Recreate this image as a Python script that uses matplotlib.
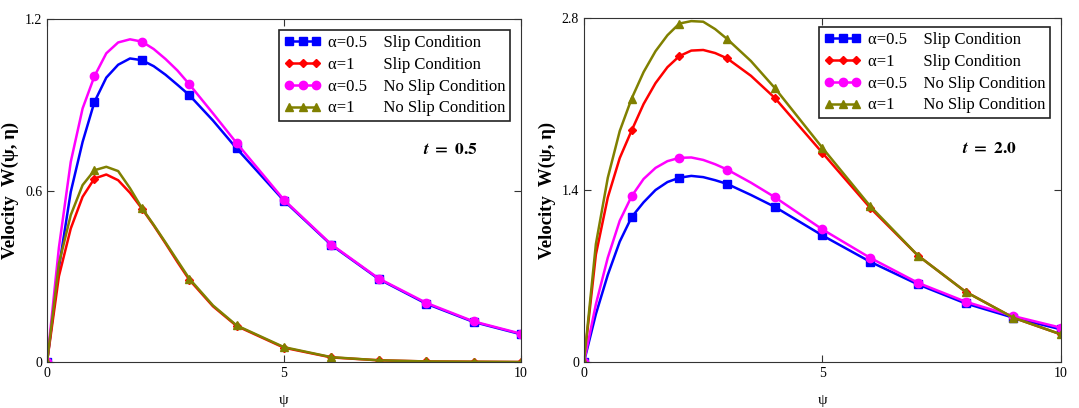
import matplotlib.pyplot as plt

plt.rcParams['font.family'] = ['Liberation Serif', 'DejaVu Serif']
plt.rcParams['mathtext.fontset'] = 'stix'

psi = [0, 0.25, 0.5, 0.75, 1, 1.25, 1.5, 1.75, 2, 2.25, 2.5, 2.75, 3, 3.5, 4, 5, 6, 7, 8, 9, 10]
# indices of the integer psi values (where markers sit)
marker_idx = [0, 4, 8, 12, 14, 15, 16, 17, 18, 19, 20]

# t = 0.5
w05_a05_slip = [0, 0.33, 0.595, 0.77, 0.910, 0.995, 1.04, 1.062, 1.056, 1.035, 1.005, 0.97, 0.934,
                0.845, 0.747, 0.564, 0.409, 0.290, 0.204, 0.140, 0.097]
w05_a1_slip = [0, 0.30, 0.467, 0.578, 0.642, 0.656, 0.636, 0.592, 0.537, 0.478, 0.415, 0.35, 0.288,
               0.195, 0.126, 0.050, 0.016, 0.006, 0.002, 0.001, 0.0]
w05_a05_noslip = [0, 0.40, 0.70, 0.887, 1.000, 1.08, 1.118, 1.129, 1.121, 1.095, 1.06, 1.02, 0.972,
                  0.87, 0.766, 0.567, 0.411, 0.292, 0.207, 0.142, 0.099]
w05_a1_noslip = [0, 0.344, 0.514, 0.619, 0.671, 0.683, 0.668, 0.608, 0.539, 0.48, 0.418, 0.355, 0.292,
                 0.198, 0.128, 0.052, 0.017, 0.006, 0.002, 0.001, 0.0]

# t = 2.0
w20_a05_slip = [0, 0.39, 0.71, 0.98, 1.18, 1.30, 1.40, 1.465, 1.50, 1.515, 1.505, 1.48, 1.45,
                1.36, 1.263, 1.030, 0.816, 0.632, 0.477, 0.361, 0.266]
w20_a1_slip = [0, 0.875, 1.34, 1.66, 1.885, 2.10, 2.27, 2.40, 2.49, 2.535, 2.54, 2.515, 2.472,
               2.33, 2.15, 1.702, 1.255, 0.867, 0.572, 0.361, 0.225]
w20_a05_noslip = [0, 0.47, 0.85, 1.15, 1.35, 1.49, 1.58, 1.635, 1.662, 1.665, 1.645, 1.61, 1.567,
                  1.46, 1.342, 1.079, 0.848, 0.645, 0.491, 0.374, 0.279]
w20_a1_noslip = [0, 0.96, 1.50, 1.88, 2.145, 2.36, 2.53, 2.66, 2.755, 2.775, 2.77, 2.71, 2.63,
                 2.45, 2.231, 1.743, 1.269, 0.867, 0.572, 0.361, 0.225]

labels = ['α=0.5    Slip Condition',
          'α=1       Slip Condition',
          'α=0.5    No Slip Condition',
          'α=1       No Slip Condition']
styles = [('#0000ff', 's', 6), ('#ff0000', 'D', 4), ('#ff00ff', 'o', 6), ('#808000', '^', 6)]


def draw_panel(ax, series, ymax, yticks, ytick_labels, t_text, legend_top):
    for y, lab, (c, m, ms) in zip(series, labels, styles):
        ax.plot(psi, y, color=c, lw=1.8, marker=m, ms=ms, markevery=marker_idx, label=lab,
                solid_joinstyle='round')
    ax.set_xlim(0, 10)
    ax.set_ylim(0, ymax)
    ax.set_xticks([0, 5, 10])
    ax.set_xticklabels(['0', '5', '10'])
    ax.set_yticks(yticks)
    ax.set_yticklabels(ytick_labels)
    ax.tick_params(direction='in', top=True, right=True, length=5, labelsize=10, color='#333333')
    for s in ax.spines.values():
        s.set_color('#333333')
    ax.set_xlabel('ψ', fontsize=11, labelpad=10)
    ax.set_ylabel('Velocity  W(ψ, η)', fontsize=13.5, fontweight='bold', labelpad=4)
    ax.text(0.85, 0.618, t_text, transform=ax.transAxes, fontsize=12.5, ha='center', va='center')
    leg = ax.legend(loc='upper right', bbox_to_anchor=(0.977, legend_top), numpoints=3,
                    fancybox=False, framealpha=1, edgecolor='#222222', fontsize=12,
                    handlelength=2.2, handletextpad=0.4, borderpad=0.3, labelspacing=0.35,
                    borderaxespad=0)
    leg.get_frame().set_linewidth(1.2)


fig = plt.figure(figsize=(10.79, 4.08), dpi=100)
ax1 = fig.add_axes([0.0436, 0.1127, 0.4393, 0.8407])
ax2 = fig.add_axes([0.5412, 0.1127, 0.4421, 0.8431])

draw_panel(ax1, [w05_a05_slip, w05_a1_slip, w05_a05_noslip, w05_a1_noslip],
           1.2, [0, 0.6, 1.2], ['0', '0.6', '1.2'], r'$\mathbfit{t}\ \mathbf{=\ 0.5}$', 0.968)
draw_panel(ax2, [w20_a05_slip, w20_a1_slip, w20_a05_noslip, w20_a1_noslip],
           2.8, [0, 1.4, 2.8], ['0', '1.4', '2.8'], r'$\mathbfit{t}\ \mathbf{=\ 2.0}$', 0.974)

fig.savefig('out.png', dpi=100)
